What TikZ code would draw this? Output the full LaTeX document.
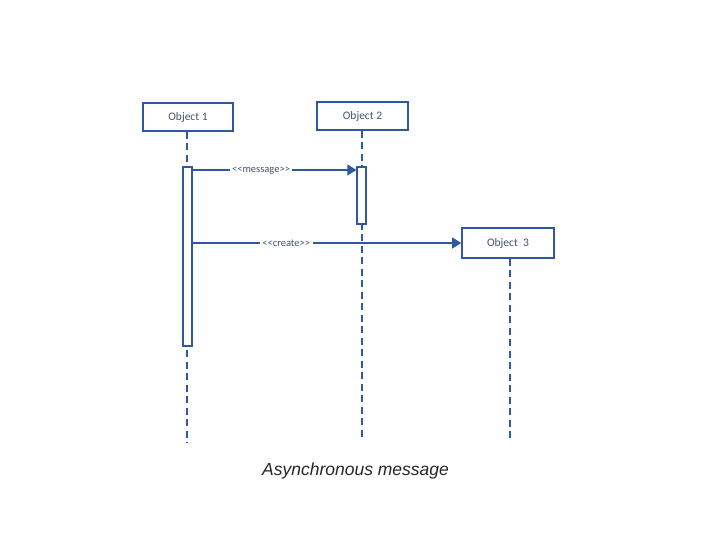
\documentclass[tikz,border=0pt]{standalone}
\usepackage{fontspec}
\setmainfont[Ligatures=NoCommon]{Carlito}
\newfontfamily\capfont{Liberation Sans}
\usetikzlibrary{arrows.meta}
\definecolor{umlblue}{HTML}{2E58A0}
\definecolor{umltext}{HTML}{44546A}
\begin{document}
\begin{tikzpicture}[x=1pt,y=-1pt,
  objbox/.style={draw=umlblue,line width=1.4pt,fill=white,minimum width=90pt,minimum height=28pt,inner sep=0pt,font=\fontsize{11.5}{13}\selectfont,text=umltext},
  lifeline/.style={draw=umlblue,line width=1.4pt,dash pattern=on 7pt off 4.5pt},
  actbar/.style={draw=umlblue,line width=1.2pt,fill=white,minimum width=9pt,inner sep=0pt},
  msg/.style={draw=umlblue,line width=1.4pt,-{Triangle[length=9pt,width=11pt]}},
  msglabel/.style={fill=white,inner sep=2.5pt,font=\fontsize{10.5}{12}\selectfont,text=umltext,yshift=-0.5pt}]
\useasboundingbox (0,0) rectangle (720,540);
% objects
\node[objbox] (o1) at (188,117) {Object 1};
\node[objbox,minimum width=91pt] (o2) at (362.5,116) {Object 2};
\node[objbox,minimum width=92pt,minimum height=30pt,line width=1.6pt] (o3) at (508,243) {Object\ \ 3};
% lifeline ends
\coordinate (e1) at (187,443);
\coordinate (e2) at (362,440);
\coordinate (e3) at (510,440);
\draw[lifeline] (o1.south -| e1) -- (e1);
\draw[lifeline] (o2.south -| e2) -- (e2);
\draw[lifeline] (o3.south -| e3) -- (e3);
% activation bars
\node[actbar,minimum height=179pt] (a1) at (187.5,256.5) {};
\node[actbar,minimum height=57pt] (a2) at (361.5,195.5) {};
% messages
\coordinate (m1) at (192,170);
\draw[msg] (m1) -- (m1 -| a2.west) node[msglabel,pos=0.42] {{<}{<}message{>}{>}};
\coordinate (m2) at (192,243);
\draw[msg] (m2) -- (o3.west) node[msglabel,pos=0.35] {{<}{<}create{>}{>}};
% caption
\node[font=\capfont\itshape\fontsize{17.5}{20}\selectfont,text=black!85] (cap) at (355.5,471) {Asynchronous message};
\end{tikzpicture}
\end{document}
